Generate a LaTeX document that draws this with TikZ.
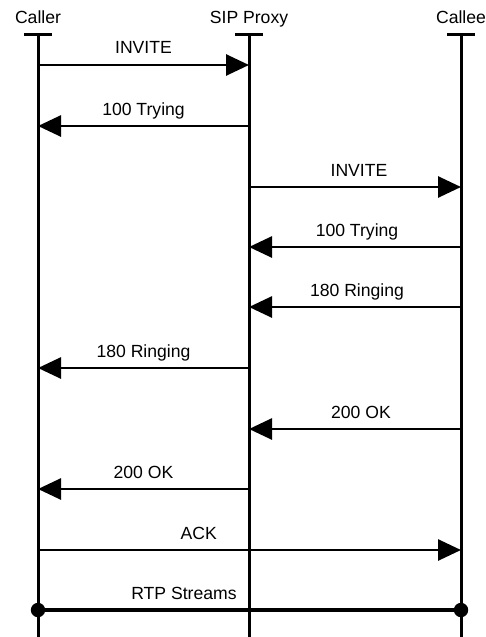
\documentclass[tikz,border=0pt]{standalone}
\usepackage{fontspec}
\setmainfont{Liberation Sans}
\usetikzlibrary{arrows.meta}
\begin{document}
\begin{tikzpicture}[x=0.5pt,y=-0.5pt,line join=round,line width=1.5pt,>={Triangle[length=11.5pt,width=10.5pt]}]
	\tikzset{every node/.style={font=\fontsize{8.8}{10}\selectfont,inner sep=0pt}}
	\tikzset{msg/.style={line width=1.35pt},lbl/.style={anchor=base,yshift=5.5pt}}
	\useasboundingbox (0,0) rectangle (486,637);
	% lifelines
	\foreach \n/\x/\t in {caller/38/Caller,proxy/249/SIP Proxy,callee/461/Callee}{
		\node[anchor=base] (\n) at (\x,24) {\t};
		\draw (\x-14,34)--(\x+14,34);
		\draw (\x,34)--(\x,637);
		\foreach \i/\y in {1/65,2/126,3/187,4/247,5/307,6/368,7/429,8/489,9/550,10/610}
			\coordinate (\n\i) at (\x,\y);
	}
	% messages
	\draw[msg,->] (caller1)--(proxy1) node[midway,lbl] {INVITE};
	\draw[msg,->] (proxy2)--(caller2) node[midway,lbl] {100 Trying};
	\draw[msg,->] (proxy3)--(callee3) node[midway,lbl,xshift=2pt] {INVITE};
	\draw[msg,->] (callee4)--(proxy4) node[midway,lbl,xshift=1pt] {100 Trying};
	\draw[msg,->] (callee5)--(proxy5) node[midway,lbl,xshift=1pt] {180 Ringing};
	\draw[msg,->] (proxy6)--(caller6) node[midway,lbl] {180 Ringing};
	\draw[msg,->] (callee7)--(proxy7) node[midway,lbl,xshift=3pt] {200 OK};
	\draw[msg,->] (proxy8)--(caller8) node[midway,lbl] {200 OK};
	\draw[msg,->] (caller9)--(callee9) node[pos=0.38,lbl] {ACK};
	\draw[line width=1.8pt] (caller10)--(callee10) node[pos=0.345,lbl] {RTP Streams};
	\fill (caller10) circle (3.6pt) (callee10) circle (3.6pt);
\end{tikzpicture}
\end{document}
